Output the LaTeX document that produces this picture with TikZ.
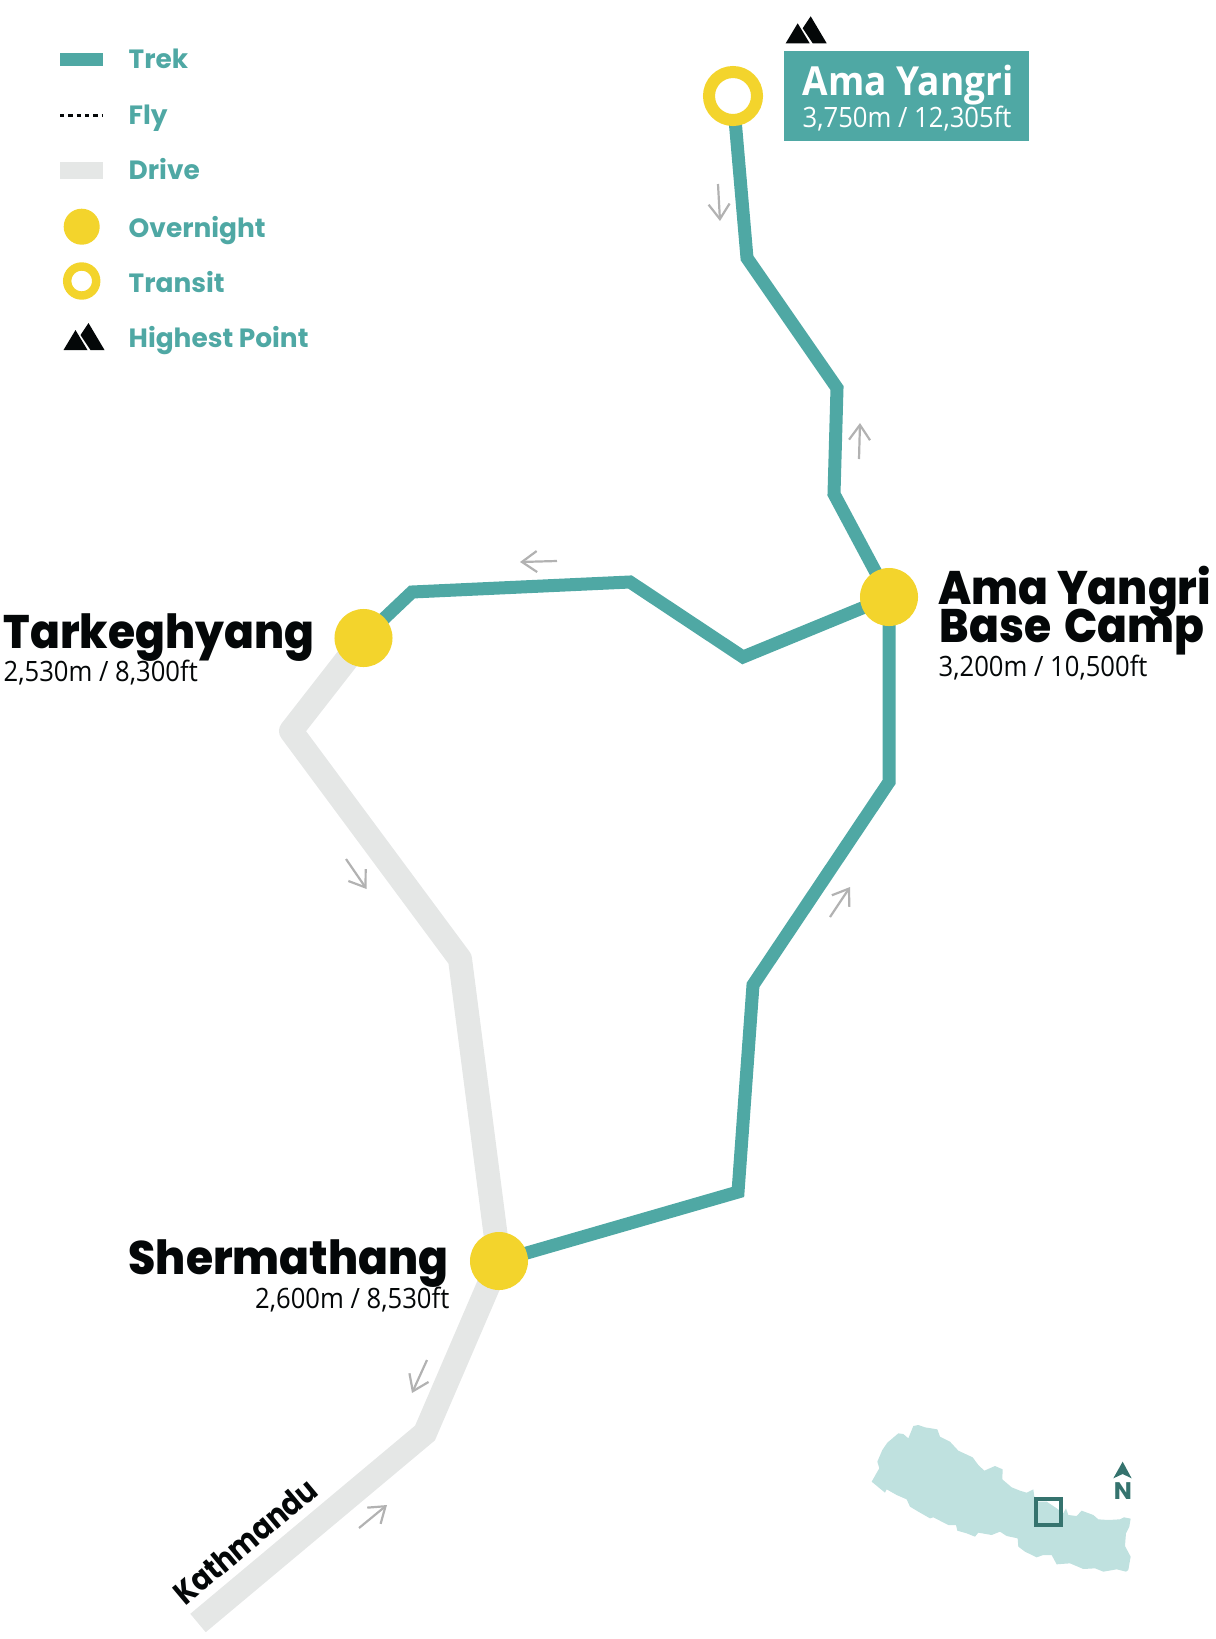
\documentclass[tikz,border=0pt]{standalone}
\usepackage{fontspec}
\usetikzlibrary{arrows.meta,backgrounds}
\setmainfont{Open Sans}[FakeStretch=0.915]
\newfontfamily\amafont{Open Sans}[FakeStretch=0.925]
\newfontfamily\legendfont{Poppins}[UprightFont=* Bold]
\newfontfamily\kathfont{Poppins}[UprightFont=* Bold,FakeStretch=0.88]
\newfontfamily\placefont{Poppins ExtraBold}[FakeStretch=0.935]
\definecolor{trekteal}{HTML}{4FA8A4}
\definecolor{darkteal}{HTML}{35736E}
\definecolor{nepalteal}{HTML}{BFE1DF}
\definecolor{stopyellow}{HTML}{F3D42C}
\definecolor{drivegrey}{HTML}{E5E7E6}
\definecolor{flowgrey}{HTML}{B2B2B2}
\definecolor{inkblack}{HTML}{040708}
\tikzset{
  trek/.style={trekteal,line width=1.3mm},
  drive/.style={drivegrey,line width=2.4mm},
  flowarrow/.style={flowgrey,line width=.22mm,-{Straight Barb[length=1.5mm,width=2.1mm]}},
  overnight/.style={circle,fill=stopyellow,inner sep=0,minimum size=5.8mm},
  transit/.style={circle,draw=stopyellow,fill=white,line width=1.2mm,inner sep=0,minimum size=4.8mm},
  legendlabel/.style={anchor=base west,inner sep=0,text=trekteal,font=\legendfont\fontsize{2.64mm}{3mm}\selectfont},
  placename/.style={inner sep=0,text=inkblack,font=\placefont\fontsize{4.7mm}{5mm}\selectfont},
  height/.style={inner sep=0,text=inkblack,font=\fontsize{2.8mm}{3mm}\selectfont},
  mountains/.pic={
    \fill[inkblack] (0,0) -- (12,-20) -- (24,0) -- cycle;
    \fill[inkblack] (25,-27) -- (41,0) -- (27,0) -- (17,-15) -- cycle;
  }
}
\begin{document}
\begin{tikzpicture}[x=0.01cm,y=-0.01cm]
\useasboundingbox (0,0) rectangle (1216,1639);

% legend
\draw[trek] (60,59.5) -- (103,59.5);
\draw[inkblack,line width=.3mm,dash pattern=on .43mm off .4mm] (60,115) -- (103,115);
\draw[drivegrey,line width=1.7mm] (60,170.5) -- (103,170.5);
\node[overnight,minimum size=3.6mm] (keyovernight) at (81.7,226.7) {};
\node[transit,line width=.84mm,minimum size=2.9mm] (keytransit) at (81.7,281) {};
\pic at (63.5,350) {mountains};
\node[legendlabel] (keytrek) at (128,68.5) {Trek};
\node[legendlabel] (keyfly) at (128,124) {Fly};
\node[legendlabel] (keydrive) at (128,179) {Drive};
\node[legendlabel] (keyover) at (128,237.5) {Overnight};
\node[legendlabel] (keytrans) at (128,292.5) {Transit};
\node[legendlabel] (keyhigh) at (128,347.5) {Highest Point};

% stops
\node[transit] (amayangri) at (733,96) {};
\node[overnight] (basecamp) at (889,597) {};
\node[overnight] (tarke) at (363.5,638) {};
\node[overnight] (sherma) at (499,1261) {};

% route
\begin{scope}[on background layer]
\coordinate (kathmandu) at (198,1623);
\draw[drive,line join=round] (tarke.center) -- (291,731) -- (460,959) -- (sherma.center);
\draw[drive] (sherma.center) -- (425,1433) -- (kathmandu);
\draw[trek] (amayangri.center) -- (747,258) -- (837,388) -- (834,494) -- (basecamp.center);
\draw[trek] (basecamp.center) -- (743,657) -- (630,582) -- (412,592) -- (tarke.center);
\draw[trek] (basecamp.center) -- (889,782) -- (753,985) -- (738,1192) -- (sherma.center);
\end{scope}

% direction arrows
\draw[flowarrow] (718,184) -- (720,221);
\draw[flowarrow] (859,459) -- (860,423);
\draw[flowarrow] (557,561) -- (520,562);
\draw[flowarrow] (346,859) -- (366.6,889);
\draw[flowarrow] (830,917) -- (850,887);
\draw[flowarrow] (427,1360) -- (412,1393);
\draw[flowarrow] (359,1528) -- (387,1505);

% labels
\pic at (785.7,43.3) {mountains};
\fill[trekteal] (784,51) rectangle (1029,141);
\node[anchor=base west,inner sep=0,text=white,font=\amafont\bfseries\fontsize{4mm}{4.5mm}\selectfont] (amaname) at (802,95) {Ama Yangri};
\node[height,anchor=base west,text=white] (amaheight) at (802,127.5) {3,750m / 12,305ft};
\node[placename,anchor=base west] (basename) at (938,604.5) {Ama Yangri};
\node[placename,anchor=base west] (basename2) at (939,642) {Base\hspace{.5mm} Camp};
\node[height,anchor=base west] (baseheight) at (938,676) {3,200m / 10,500ft};
\node[placename,anchor=base west] (tarkename) at (3,648.5) {Tarkeghyang};
\node[height,anchor=base west] (tarkeheight) at (3,681.5) {2,530m / 8,300ft};
\node[placename,anchor=base east] (shermaname) at (449,1274) {Shermathang};
\node[height,anchor=base east] (shermaheight) at (450,1308) {2,600m / 8,530ft};
\node[anchor=base west,inner sep=0,rotate=40,text=inkblack,font=\kathfont\fontsize{3.2mm}{3.5mm}\selectfont] (kathname) at (185,1607) {Kathmandu};

% locator map
\begin{scope}[shift={(850,1400)},scale=0.3333]
\fill[nepalteal] (65,245) -- (82,215) -- (88,205) -- (82,185) -- (97,150) -- (112,128) -- (145,100) -- (160,102) -- (175,115) -- (190,78) -- (205,75) -- (225,82) -- (262,88) -- (270,110) -- (300,125) -- (325,152) -- (368,172) -- (385,195) -- (403,212) -- (435,198) -- (458,208) -- (457,238) -- (485,262) -- (510,272) -- (530,278) -- (550,268) -- (553,290) -- (565,305) -- (590,305) -- (620,325) -- (640,340) -- (648,325) -- (655,345) -- (680,348) -- (695,332) -- (730,345) -- (745,358) -- (775,360) -- (810,358) -- (822,352) -- (842,356) -- (838,380) -- (828,400) -- (825,438) -- (842,470) -- (835,510) -- (828,515) -- (800,508) -- (760,515) -- (735,505) -- (700,507) -- (660,490) -- (620,493) -- (605,465) -- (580,465) -- (560,472) -- (525,455) -- (505,440) -- (503,415) -- (470,408) -- (450,395) -- (425,405) -- (385,398) -- (375,410) -- (350,400) -- (322,392) -- (318,375) -- (295,375) -- (250,352) -- (240,355) -- (205,335) -- (180,320) -- (170,298) -- (140,285) -- (110,268) -- (105,278) -- cycle;
\draw[darkteal,line width=.4mm] (559,296) rectangle (632,374);
\fill[darkteal] (818,185) -- (845,235) -- (818,222) -- (790,235) -- cycle;
\node[anchor=base,inner sep=0,text=darkteal,font=\legendfont\fontsize{2.4mm}{3mm}\selectfont] (north) at (819,298) {N};
\end{scope}
\end{tikzpicture}
\end{document}
